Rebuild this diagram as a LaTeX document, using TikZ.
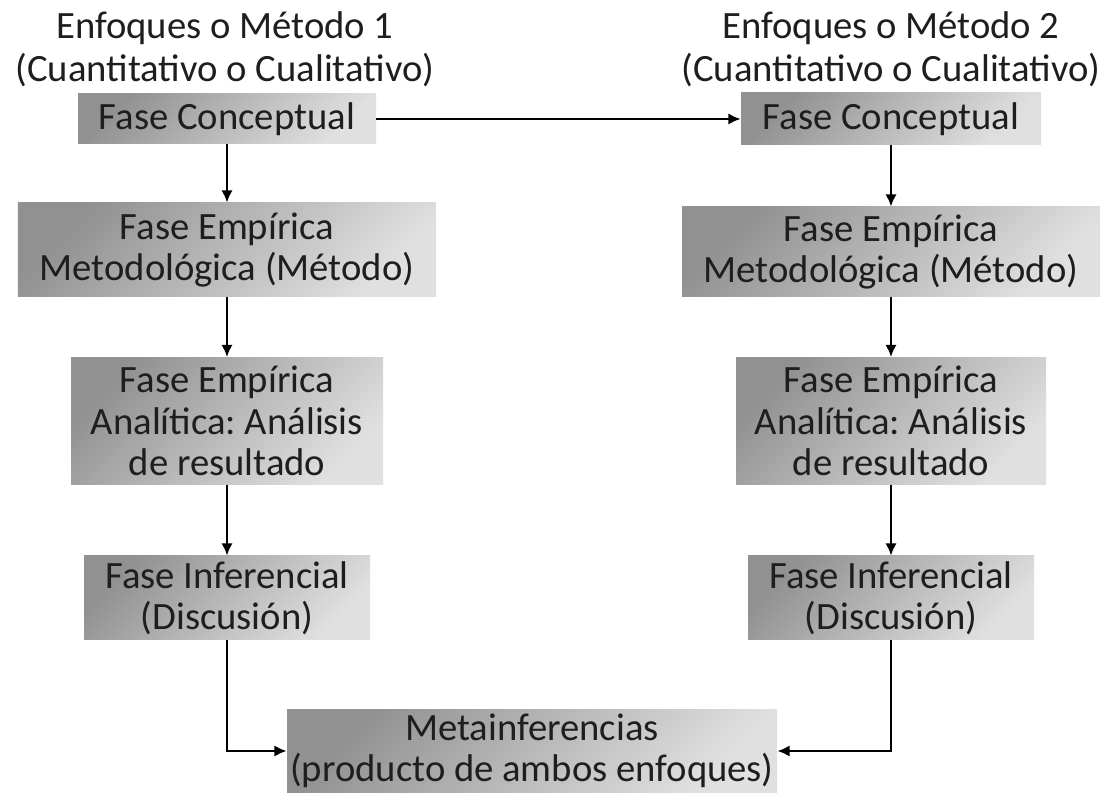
\documentclass[tikz,border=0pt]{standalone}
\usepackage{fontspec}
\setmainfont{Carlito}
\usepackage{tikz}
\usetikzlibrary{positioning,arrows.meta,calc}
\definecolor{boxdark}{RGB}{145,145,145}
\definecolor{boxlight}{RGB}{224,224,224}
\definecolor{texto}{RGB}{30,30,30}
\tikzset{
    on grid,
    node distance=3cm,
    auto,
    block/.style = {
        shape=rectangle,
        top color=boxdark,
        bottom color=boxlight,
        shading angle=45,
        align=center,
        inner sep=0pt,
        text=texto,
        font=\fontsize{22pt}{23.5pt}\selectfont
    },
    titulo/.style = {
        shape=rectangle,
        align=center,
        inner sep=0pt,
        text=texto,
        font=\fontsize{22pt}{24.5pt}\selectfont
    },
    flecha/.style = {
        draw,
        ->,
        line width=1.4pt
    },
    >={Latex[length=7pt,width=6.5pt]},
}

\begin{document}
\frenchspacing
\begin{tikzpicture}
                \useasboundingbox (0,0) rectangle (22.4,-15.86);

                \node[titulo] (tit1) at (4.5,-0.98) {Enfoques o Método 1\\(Cuantitativo o Cualitativo)};
                \node[titulo] (tit2) at (17.82,-0.98) {Enfoques o Método 2\\(Cuantitativo o Cualitativo)};

                \node[block, minimum width=5.96cm, minimum height=1.0cm] (conc1) at (4.54,-2.38) {Fase Conceptual};
                \node[block, minimum width=8.36cm, minimum height=1.88cm] (emp1) at (4.54,-5.0) {Fase Empírica\\Metodológica (Método)};
                \node[block, minimum width=6.24cm, minimum height=2.54cm] (ana1) at (4.54,-8.42) {Fase Empírica\\Analítica: Análisis\\de resultado};
                \node[block, minimum width=5.72cm, minimum height=1.68cm] (inf1) at (4.54,-11.96) {Fase Inferencial\\(Discusión)};

                \node[block, minimum width=6.0cm, minimum height=1.04cm] (conc2) at (17.82,-2.38) {Fase Conceptual};
                \node[block, minimum width=8.36cm, minimum height=1.8cm] (emp2) at (17.82,-5.04) {Fase Empírica\\Metodológica (Método)};
                \node[block, minimum width=6.2cm, minimum height=2.54cm] (ana2) at (17.82,-8.42) {Fase Empírica\\Analítica: Análisis\\de resultado};
                \node[block, minimum width=5.72cm, minimum height=1.68cm] (inf2) at (17.82,-11.96) {Fase Inferencial\\(Discusión)};

                \node[block, minimum width=9.8cm, minimum height=1.68cm] (meta) at (10.64,-15.02) {Metainferencias\\(producto de ambos enfoques)};

                \path[flecha] (conc1) -- (conc2);
                \path[flecha] (conc1) -- (emp1);
                \path[flecha] (emp1) -- (ana1);
                \path[flecha] (ana1) -- (inf1);
                \path[flecha] (conc2) -- (emp2);
                \path[flecha] (emp2) -- (ana2);
                \path[flecha] (ana2) -- (inf2);
                \path[flecha] (inf1) |- (meta.west);
                \path[flecha] (inf2) |- (meta.east);
            \end{tikzpicture}
\end{document}
